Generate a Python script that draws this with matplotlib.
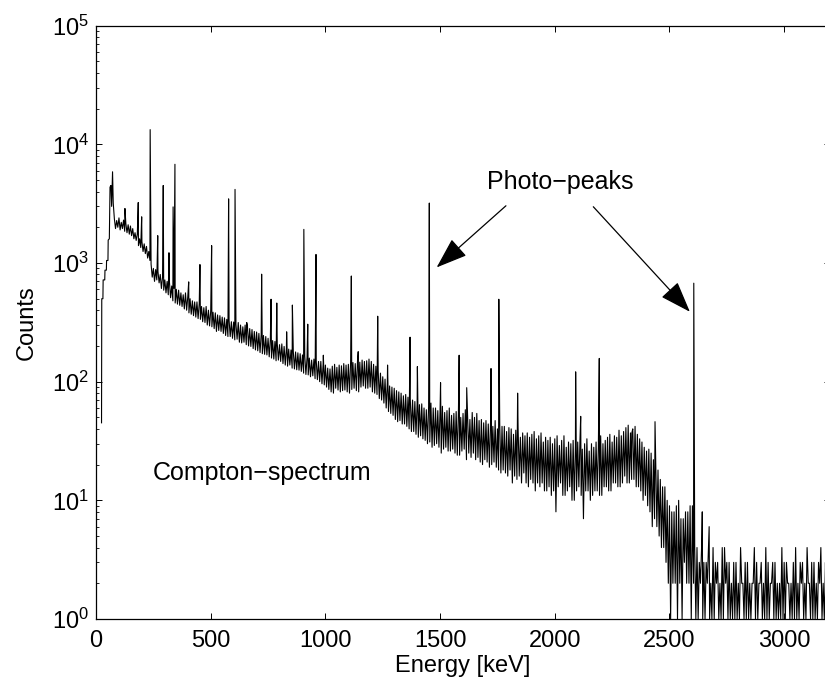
import numpy as np
import matplotlib
matplotlib.use("Agg")
import matplotlib.pyplot as plt

plt.rcParams['font.family'] = ['Liberation Sans', 'DejaVu Sans']
plt.rcParams['mathtext.default'] = 'regular'

# low-energy rise of the spectrum (keV, counts)
rise_energy = [24, 25, 30, 31, 38, 39, 45, 46, 52, 53, 58, 61, 65, 68, 72, 75]
rise_counts = [45, 500, 500, 720, 720, 870, 870, 1050, 1050, 1560, 1600, 4360, 4500, 3000, 5870, 3200]

# noisy continuum: upper side read every 10 keV from 80 keV,
# lower side read every 10 keV from 85 keV
upper_start = 80
lower_start = 85
cont_step = 10
cont_upper = [
    2350, 2280, 2400, 2200, 2300, 2150, 2100, 2050, 1950, 1800,
    1750, 1600, 1520, 1450, 1380, 1250, 980, 900, 880, 850,
    800, 760, 720, 700, 690, 640, 610, 600, 590, 560,
    540, 560, 520, 500, 480, 470, 470, 455, 430, 420,
    430, 400, 395, 385, 380, 365, 360, 350, 345, 335,
    330, 320, 318, 305, 315, 300, 290, 300, 295, 280,
    275, 265, 262, 255, 250, 245, 240, 232, 228, 222,
    218, 210, 205, 208, 198, 192, 188, 185, 180, 178,
    175, 172, 168, 165, 160, 158, 152, 155, 150, 148,
    148, 140, 138, 130, 128, 135, 140, 132, 138, 136,
    142, 138, 140, 148, 145, 142, 150, 146, 152, 148,
    150, 155, 148, 140, 135, 125, 118, 110, 105, 98,
    92, 90, 88, 84, 82, 80, 76, 78, 74, 72,
    70, 68, 66, 64, 65, 60, 58, 62, 66, 60,
    60, 57, 58, 62, 55, 57, 60, 52, 54, 56,
    56, 50, 54, 58, 52, 48, 55, 50, 54, 47,
    48, 45, 47, 44, 46, 42, 47, 40, 44, 42,
    42, 38, 41, 40, 36, 39, 41, 34, 37, 35,
    37, 34, 36, 38, 33, 35, 37, 31, 34, 32,
    34, 30, 33, 35, 29, 32, 35, 28, 31, 30,
    32, 29, 31, 33, 27, 30, 33, 26, 30, 28,
    31, 28, 35, 30, 32, 34, 36, 31, 35, 34,
    39, 35, 38, 41, 43, 37, 40, 42, 36, 33,
    31, 28, 26, 27, 25, 22, 21, 18, 15, 13,
    13, 10, 9, 8, 8, 9, 10, 7, 7, 8,
    8, 9, 9, 4, 4, 3, 4, 3, 3, 4,
    2, 4, 3, 3, 2, 4, 4, 3, 3, 2,
    3, 3, 2, 4, 2, 3, 3, 2, 2, 4,
    3, 2, 3, 2, 4, 3, 2, 3, 3, 2,
    2, 4, 3, 3, 2, 2, 3, 4, 2, 3,
    3, 2, 4, 2, 3, 3, 2, 3, 4, 2,
    3, 3,
]
cont_lower = [
    1950, 2000, 1900, 1950, 1850, 1800, 1750, 1700, 1600, 1550,
    1400, 1350, 1250, 1200, 1100, 1050, 760, 700, 720, 680,
    610, 590, 560, 540, 510, 480, 460, 450, 440, 430,
    410, 400, 380, 370, 360, 350, 340, 335, 320, 315,
    300, 295, 290, 280, 265, 270, 265, 255, 245, 240,
    240, 232, 225, 228, 215, 212, 215, 205, 200, 198,
    190, 185, 182, 176, 172, 170, 168, 162, 158, 155,
    150, 152, 148, 142, 138, 135, 138, 130, 128, 126,
    125, 122, 118, 115, 114, 110, 112, 106, 104, 100,
    96, 94, 90, 86, 82, 80, 88, 85, 82, 84,
    85, 82, 80, 86, 88, 84, 82, 90, 92, 88,
    88, 90, 82, 80, 78, 72, 70, 66, 60, 56,
    54, 52, 48, 46, 47, 44, 44, 42, 40, 38,
    38, 36, 34, 35, 33, 32, 30, 31, 28, 29,
    30, 28, 25, 27, 28, 26, 26, 27, 25, 24,
    24, 26, 27, 22, 25, 23, 25, 22, 23, 21,
    20, 22, 21, 19, 20, 21, 19, 18, 17, 18,
    17, 16, 18, 14, 16, 15, 16, 14, 17, 14,
    13, 15, 14, 12, 14, 13, 14, 12, 12, 13,
    11, 12, 8, 13, 14, 11, 11, 12, 13, 10,
    10, 12, 13, 11, 7, 12, 12, 10, 11, 12,
    12, 11, 11, 13, 13, 12, 12, 14, 14, 13,
    13, 14, 16, 14, 14, 15, 15, 13, 13, 12,
    10, 11, 9, 8, 6, 7, 6, 5, 4, 4,
    3, 2, 1, 2, 2, 1, 2, 1, 3, 2,
    2, 1, 2, 1, 1, 2, 1, 1, 2, 1,
    1, 1, 2, 1, 1, 1, 2, 1, 1, 1,
    1, 1, 1, 2, 1, 1, 1, 1, 2, 1,
    1, 2, 1, 1, 1, 1, 2, 1, 1, 1,
    1, 1, 1, 2, 1, 1, 1, 1, 1, 2,
    1, 1, 2, 1, 1, 1, 1, 2, 1, 1,
    1, 1,
]

# photo-peaks and smaller lines (keV, counts)
peak_energy = [126, 184, 199, 236, 269, 293, 318, 336, 344, 404, 453, 504, 578, 606,
               657, 722, 763, 788, 831, 856, 906, 923, 959, 991, 1113, 1143, 1228,
               1271, 1369, 1401, 1453, 1502, 1583, 1616, 1722, 1756, 1838, 2091,
               2113, 2194, 2336, 2437, 2606, 2643, 2673]
peak_counts = [2880, 3230, 2450, 13300, 1700, 4500, 1220, 2970, 6790, 693, 970, 1400, 3470, 4170,
               315, 805, 495, 460, 263, 442, 1920, 305, 1180, 167, 777, 179, 356,
               138, 237, 134, 3200, 98, 167, 89, 129, 495, 80, 121,
               51, 157, 37, 46, 676, 8, 6]

upper_energy = upper_start + cont_step * np.arange(len(cont_upper))
lower_energy = lower_start + cont_step * np.arange(len(cont_lower))
energy = np.concatenate([rise_energy, upper_energy, lower_energy, peak_energy]).astype(float)
counts = np.concatenate([rise_counts, cont_upper, cont_lower, peak_counts]).astype(float)
order = np.argsort(energy, kind='stable')

fig = plt.figure(figsize=(8.25, 6.88), dpi=100)
ax = fig.add_axes([0.1164, 0.1003, 0.8897, 0.8624])
ax.semilogy(energy[order], counts[order], color='black', lw=0.8)

ax.set_xlim(0, 3200)
ax.set_ylim(1, 1e5)
ax.set_xticks([0, 500, 1000, 1500, 2000, 2500, 3000])
ax.tick_params(which='both', direction='in', top=True, right=True, labelsize=17)
ax.tick_params(which='major', length=4.5, width=0.7)
ax.tick_params(which='minor', length=2.2, width=0.6)
ax.tick_params(axis='x', pad=8)
ax.tick_params(axis='y', pad=5)
for s in ax.spines.values():
    s.set_linewidth(0.9)

ax.set_xlabel('Energy [keV]', fontsize=17, labelpad=2)
ax.set_ylabel('Counts', fontsize=17, labelpad=10)

ax.text(247, 17, 'Compton\u2212spectrum', fontsize=18, ha='left', va='center')
ax.text(2023, 4830, 'Photo\u2212peaks', fontsize=18, ha='center', va='center')

arrow = dict(arrowstyle='-|>,head_length=1.4,head_width=0.5', color='black', lw=0.9,
             shrinkA=0, shrinkB=0, mutation_scale=14)
ax.annotate('', xy=(1485, 918), xytext=(1787, 3034), arrowprops=arrow)
ax.annotate('', xy=(2589, 388), xytext=(2168, 2978), arrowprops=arrow)

fig.savefig('out.png', dpi=100)
